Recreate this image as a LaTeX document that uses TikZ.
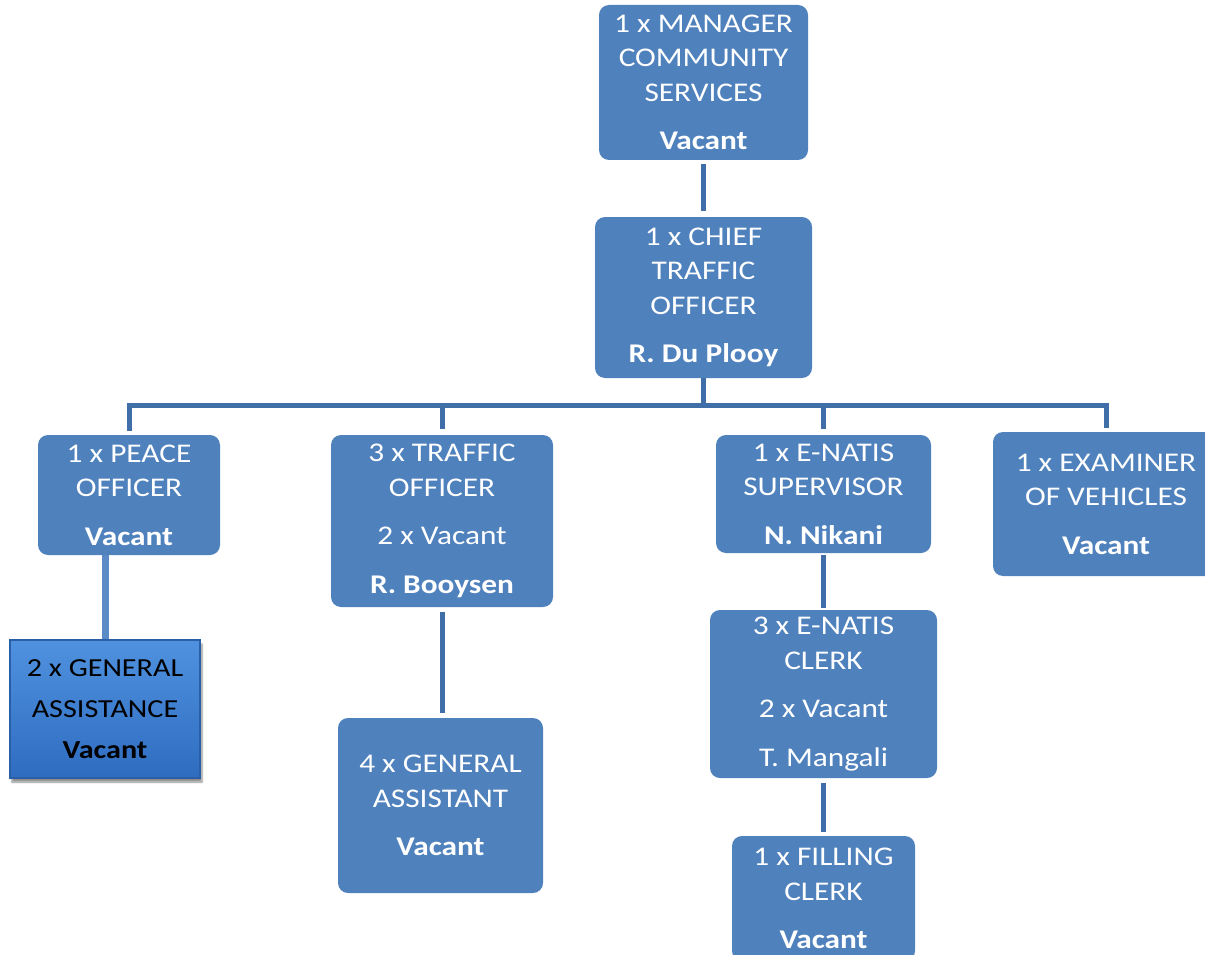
\documentclass[tikz,border=0pt]{standalone}
\usepackage{fontspec}
\setmainfont{Carlito}[FakeStretch=1.16]
\usetikzlibrary{shadows.blur}
\definecolor{boxblue}{HTML}{4F81BD}
\definecolor{linkblue}{HTML}{3F6EA8}
\definecolor{softlink}{HTML}{5A8BC6}
\definecolor{gradtop}{HTML}{4F92DF}
\definecolor{gradbot}{HTML}{2F6CC0}
\definecolor{bevel}{HTML}{2A5FA8}
\tikzset{
  post/.style={rectangle, rounded corners=10pt, fill=boxblue, text=white,
    inner sep=0pt, align=center, font=\fontsize{27}{34.5}\selectfont},
  bevelpost/.style={rectangle, inner sep=0pt, align=center, text=black,
    top color=gradtop, bottom color=gradbot, draw=bevel, line width=1.2pt,
    font=\fontsize{26}{41}\selectfont,
    blur shadow={shadow xshift=2pt, shadow yshift=-4pt, shadow blur steps=6, shadow opacity=45}},
  conn/.style={draw=linkblue, line width=5pt},
  softconn/.style={draw=softlink, line width=7pt},
}
\begin{document}
\begin{tikzpicture}[x=1pt, y=-1pt]
\useasboundingbox (0,0) rectangle (1205,955);
\clip (0,0) rectangle (1205,955);

% top of the hierarchy
\node[post, minimum width=209pt, minimum height=155pt] (mgr) at (703.5,82.5)
  {1 x MANAGER\\COMMUNITY\\SERVICES\\[14pt]\textbf{Vacant}};
\node[post, minimum width=217pt, minimum height=161pt] (chief) at (703.5,297.5)
  {1 x CHIEF\\TRAFFIC\\OFFICER\\[14pt]\textbf{R. Du Plooy}};

% second level
\node[post, minimum width=182pt, minimum height=120pt] (peace) at (129,495)
  {1 x PEACE\\OFFICER\\[14pt]\textbf{Vacant}};
\node[post, minimum width=222pt, minimum height=172pt] (traffic) at (442,521)
  {3 x TRAFFIC\\OFFICER\\[14pt]2 x Vacant\\[14pt]\textbf{R. Booysen}};
\node[post, minimum width=215pt, minimum height=118pt] (sup) at (823.5,494)
  {1 x E-NATIS\\SUPERVISOR\\[14pt]\textbf{N. Nikani}};
\node[post, minimum width=226pt, minimum height=144pt] (exam) at (1106,504)
  {1 x EXAMINER\\OF VEHICLES\\[14pt]\textbf{Vacant}};

% third level
\node[bevelpost, minimum width=190pt, minimum height=138pt] (ga2) at (105,709)
  {2 x GENERAL\\ASSISTANCE\\\textbf{Vacant}};
\node[post, minimum width=205pt, minimum height=175pt] (ga4) at (440.5,805.5)
  {4 x GENERAL\\ASSISTANT\\[14pt]\textbf{Vacant}};
\node[post, minimum width=227pt, minimum height=168pt] (clerk) at (823.5,694)
  {3 x E-NATIS\\CLERK\\[14pt]2 x Vacant\\[14pt]T. Mangali};
\node[post, minimum width=183pt, minimum height=125pt] (fill) at (823.5,898.5)
  {1 x FILLING\\CLERK\\[14pt]\textbf{Vacant}};

% connectors
\coordinate (bus) at ([yshift=-27pt]chief.south);
\draw[conn, shorten <=4pt, shorten >=6pt] (mgr.south) -- (chief.north);
\draw[conn] (chief.south) -- (bus);
\draw[conn, shorten >=4pt] (bus) -| (peace.north);
\draw[conn, shorten >=6pt] (bus) -| (traffic.north);
\draw[conn, shorten >=6pt] (bus) -| (sup.north);
\draw[conn, shorten >=4pt] (bus) -| (exam.north);
\draw[softconn] (peace.south -| ga2.north) -- (ga2.north);
\draw[conn, shorten <=5pt, shorten >=5pt] (traffic.south) -- (traffic.south |- ga4.north);
\draw[conn, shorten <=2pt, shorten >=2pt] (sup.south) -- (clerk.north);
\draw[conn, shorten <=5pt, shorten >=4pt] (clerk.south) -- (fill.north);
\end{tikzpicture}
\end{document}
